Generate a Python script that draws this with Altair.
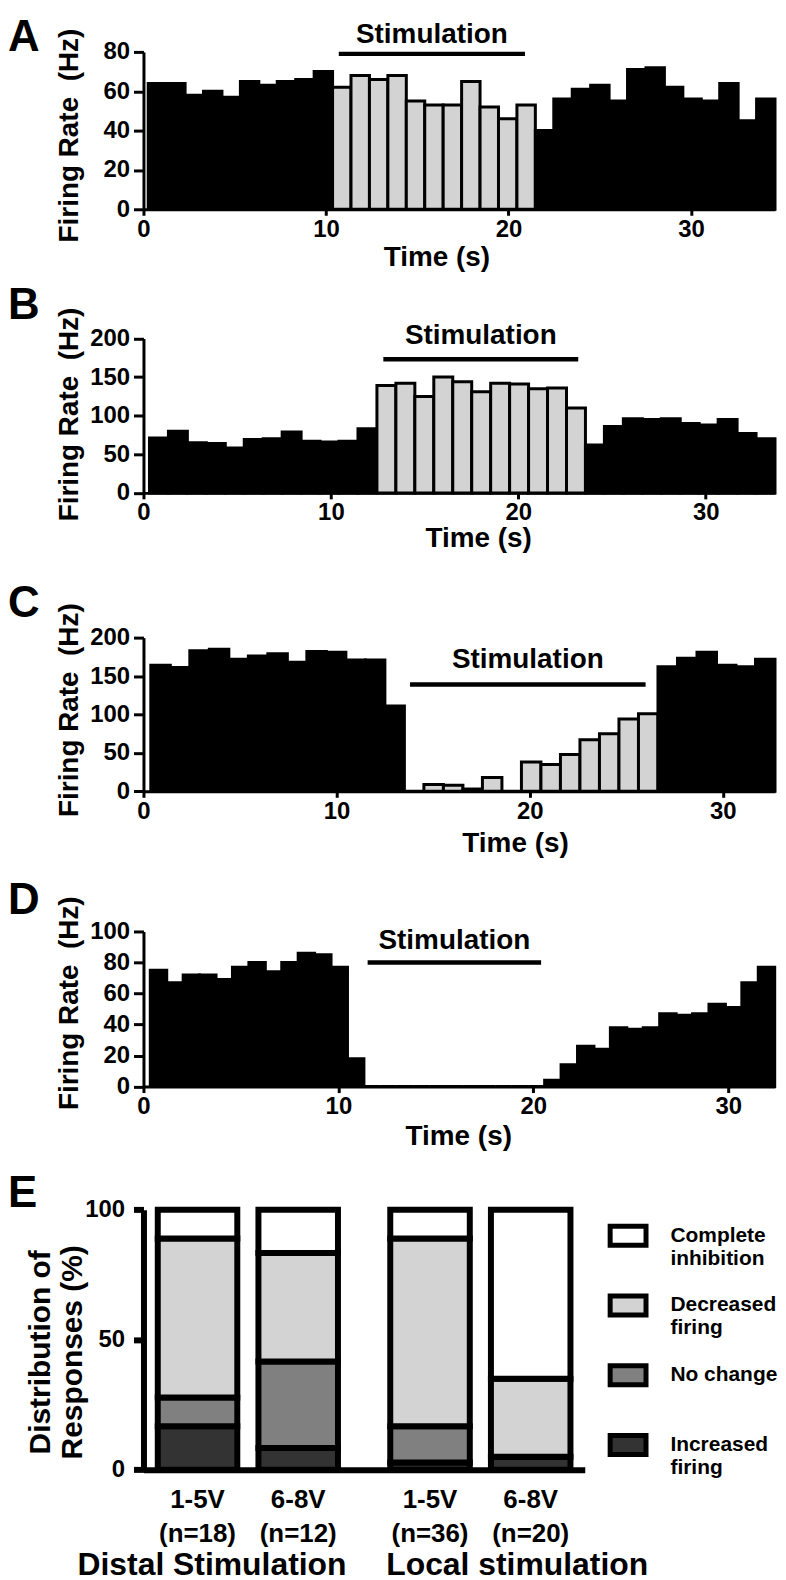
import altair as alt
import pandas as pd

F = "Liberation Sans"

# ---------------- data: panels A-D (firing-rate histograms) ----------------
A_pre = [64, 64, 58, 60, 57, 65, 63, 65, 66, 70]
A_stim = [62, 68, 66, 68, 55, 53, 53, 65, 52, 46, 53]
A_post = [40, 56, 61, 63, 55, 71, 72, 62, 56, 55, 64, 45, 56]
A_t0, A_bin, A_tmax, A_ymax = 0.26, 1.01, 34.6, 80
A_ticks = [0, 20, 40, 60, 80]
A_stimbar = [10.7, 20.9, 79]

B_pre = [71, 80, 65, 64, 58, 69, 70, 79, 67, 66, 67, 83]
B_stim = [139, 142, 125, 150, 144, 131, 142, 141, 135, 136, 110]
B_post = [62, 86, 96, 95, 96, 90, 88, 95, 77, 70]
B_t0, B_bin, B_tmax, B_ymax = 0.32, 1.0115, 33.7, 200
B_ticks = [0, 50, 100, 150, 200]
B_stimbar = [12.8, 23.2, 173]

C_pre = [164, 161, 183, 185, 172, 176, 179, 168, 182, 181, 171, 171, 111]
C_stim = [0, 9, 8, 3, 18, 0, 38, 35, 48, 67, 75, 94, 101]
C_post = [162, 173, 181, 164, 162, 172]
C_t0, C_bin, C_tmax, C_ymax = 0.38, 1.01, 32.7, 200
C_ticks = [0, 50, 100, 150, 200]
C_stimbar = [13.8, 26.0, 139]

D_pre = [75, 67, 72, 72, 69, 77, 80, 74, 80, 86, 85, 77, 18]
D_stim = [0, 0, 0, 0, 0, 0, 0, 0, 0, 0, 0]
D_post = [4, 14, 26, 24, 38, 37, 38, 47, 46, 47, 53, 51, 67, 77]
D_t0, D_bin, D_tmax, D_ymax = 0.35, 0.843, 32.4, 100
D_ticks = [0, 20, 40, 60, 80, 100]
D_stimbar = [11.5, 20.4, 80]

X_TICKS = [0, 10, 20, 30]

# ---------------- data: panel E ----------------
E_groups = ["Distal Stimulation", "Distal Stimulation", "Local stimulation", "Local stimulation"]
E_volts = ["1-5V", "6-8V", "1-5V", "6-8V"]
E_n = [18, 12, 36, 20]
E_responses = ["Complete inhibition", "Decreased firing", "No change", "Increased firing"]
E_increased = [16.7, 8.3, 2.8, 5.0]
E_nochange = [11.1, 33.3, 13.9, 0.0]
E_decreased = [61.1, 41.7, 72.2, 30.0]
E_complete = [11.1, 16.7, 11.1, 65.0]
E_colors = ["white", "#d3d3d3", "#808080", "#333333"]


def hist_df(pre, stim, post, t0, w):
    rates = pre + stim + post
    phase = ["spont"] * len(pre) + ["stim"] * len(stim) + ["spont"] * len(post)
    ts = [t0 + i * w for i in range(len(rates))]
    return pd.DataFrame({"t_start": ts, "t_end": [t + w for t in ts],
                         "rate": rates, "phase": phase})


PLOT_W = 634
LETTER_SIZE = 44


def panel(letter, df, tmax, ymax, yticks, stimbar, view_h, plot_h,
          letter_y, tx, ty, yty, text_dy):
    xsc = alt.Scale(domain=[0, tmax], nice=False, zero=False)
    ysc = alt.Scale(domain=[0, ymax], nice=False, range=[view_h, view_h - plot_h])
    xax = alt.Axis(values=X_TICKS, title="Time (s)", titleX=tx, titleY=ty,
                   titleBaseline="alphabetic", titleAlign="center",
                   titleFont=F, titleFontSize=28, titleFontWeight="bold", titleColor="black",
                   labelFont=F, labelFontSize=24, labelFontWeight="bold", labelColor="black",
                   labelPadding=2, labelFlush=False, labelOverlap=False,
                   tickSize=6, tickWidth=3, tickColor="black",
                   domainWidth=3, domainColor="black", grid=False)
    yax = alt.Axis(values=yticks, title="Firing Rate\u00a0\u00a0(Hz)", titleX=-66, titleY=yty,
                   titleAngle=270, titleBaseline="alphabetic", titleAlign="center",
                   titleFont=F, titleFontSize=28, titleFontWeight="bold", titleColor="black",
                   labelFont=F, labelFontSize=24, labelFontWeight="bold", labelColor="black",
                   labelPadding=4, labelFlush=False, labelOverlap=False,
                   tickSize=10, tickWidth=3, tickColor="black",
                   domainWidth=3, domainColor="black", grid=False)
    bars = alt.Chart(df).mark_rect(stroke="black", strokeWidth=3).encode(
        x=alt.X("t_start:Q", scale=xsc, axis=xax),
        x2="t_end:Q",
        y=alt.Y("rate:Q", scale=ysc, axis=yax),
        y2=alt.datum(0),
        fill=alt.Fill("phase:N", scale=alt.Scale(domain=["spont", "stim"],
                                                 range=["black", "#d3d3d3"]), legend=None),
    )
    sdf = pd.DataFrame({"start": [stimbar[0]], "end": [stimbar[1]], "level": [stimbar[2]]})
    rule = alt.Chart(sdf).mark_rule(color="black", strokeWidth=4.5).encode(
        x=alt.X("start:Q", scale=xsc), x2="end:Q",
        y=alt.Y("level:Q", scale=ysc))
    txt = alt.Chart(sdf).transform_calculate(
        mid="(datum.start + datum.end) / 2").mark_text(
        text="Stimulation", font=F, fontSize=28, fontWeight="bold", color="black",
        baseline="alphabetic", align="center", dy=text_dy).encode(
        x=alt.X("mid:Q", scale=xsc), y=alt.Y("level:Q", scale=ysc))
    let = alt.Chart(pd.DataFrame({"l": [letter]})).mark_text(
        font=F, fontSize=LETTER_SIZE, fontWeight="bold", align="left", baseline="alphabetic",
        color="black").encode(text="l:N", x=alt.value(-136), y=alt.value(letter_y))
    return alt.layer(bars, rule, txt, let).properties(width=PLOT_W, height=view_h)


pA = panel("A", hist_df(A_pre, A_stim, A_post, A_t0, A_bin), A_tmax, A_ymax, A_ticks,
           A_stimbar, 199, 158, 40, 294, 56, 124.5, -11)
pB = panel("B", hist_df(B_pre, B_stim, B_post, B_t0, B_bin), B_tmax, B_ymax, B_ticks,
           B_stimbar, 284.7, 155, 110, 336, 54, 205.5, -15)
pC = panel("C", hist_df(C_pre, C_stim, C_post, C_t0, C_bin), C_tmax, C_ymax, C_ticks,
           C_stimbar, 299.3, 154.3, 124, 373, 60, 217.3, -17)
pD = panel("D", hist_df(D_pre, D_stim, D_post, D_t0, D_bin), D_tmax, D_ymax, D_ticks,
           D_stimbar, 295.7, 155.7, 122, 316, 58, 211.5, -14)

# ---------------- panel E ----------------
E_group_order = ["Distal Stimulation", "Local stimulation"]
E_volt_order = ["1-5V", "6-8V"]
rows = []
series = {"Increased firing": E_increased, "No change": E_nochange,
          "Decreased firing": E_decreased, "Complete inhibition": E_complete}
for resp, vals in series.items():
    for i in range(4):
        rows.append({"group": E_groups[i], "volt": E_volts[i], "response": resp,
                     "pct": vals[i], "rank": 3 - E_responses.index(resp)})
e_df = pd.DataFrame(rows)
lab_df = pd.DataFrame({"group": E_groups, "volt": E_volts,
                       "label": [f"{v}\n(n={n})" for v, n in zip(E_volts, E_n)]})
grp_df = pd.DataFrame({"group": E_group_order})

E_VIEW_H, E_PLOT_H = 384.3, 261
xE = alt.Scale(paddingInner=0.134, paddingOuter=0.016)
xoE = alt.Scale(paddingInner=0.21, paddingOuter=0.105)
yE = alt.Scale(domain=[0, 100], nice=False, range=[E_VIEW_H, E_VIEW_H - E_PLOT_H])

e_bars = alt.Chart(e_df).mark_bar(stroke="black", strokeWidth=6, strokeJoin="miter").encode(
    x=alt.X("group:N", sort=E_group_order, scale=xE,
            axis=alt.Axis(labels=False, ticks=False, title=None, domainWidth=6,
                          domainColor="black", grid=False)),
    xOffset=alt.XOffset("volt:N", sort=E_volt_order, scale=xoE),
    y=alt.Y("pct:Q", stack="zero", scale=yE,
            axis=alt.Axis(values=[0, 50, 100], title=["Distribution of", "Responses (%)"],
                          titleFont=F, titleFontSize=30, titleFontWeight="bold",
                          titleColor="black", titleLineHeight=32, titleX=-94, titleY=266,
                          titleAngle=270, titleBaseline="alphabetic", titleAlign="center",
                          labelFont=F, labelFontSize=24, labelFontWeight="bold",
                          labelColor="black", labelPadding=9, labelFlush=False,
                          tickSize=10, tickWidth=6, tickColor="black",
                          domainWidth=6, domainColor="black", grid=False)),
    fill=alt.Fill("response:N", sort=E_responses,
                  scale=alt.Scale(domain=E_responses, range=E_colors),
                  legend=alt.Legend(orient="none", legendX=466, legendY=129, title=None,
                                    direction="vertical",
                                    symbolType="M-1,-0.53H1V0.53H-1Z", symbolSize=1296,
                                    symbolStrokeColor="black", symbolStrokeWidth=5,
                                    symbolOpacity=1, labelFont=F, labelFontSize=21,
                                    labelFontWeight="bold", labelColor="black",
                                    labelOffset=22, labelLimit=300,
                                    labelExpr="datum.label == 'No change' ? datum.label : split(datum.label, ' ')",
                                    rowPadding=16, gridAlign="all", padding=0)),
    order=alt.Order("rank:Q"),
)

e_sub = alt.Chart(lab_df).mark_text(
    font=F, fontSize=26, fontWeight="bold", color="black", baseline="alphabetic",
    align="center", lineBreak="\n", lineHeight=34).encode(
    x=alt.X("group:N", sort=E_group_order, scale=xE),
    xOffset=alt.XOffset("volt:N", sort=E_volt_order, scale=xoE),
    text="label:N", y=alt.value(423))

e_g1 = alt.Chart(grp_df).transform_filter(
    alt.datum.group == "Distal Stimulation").mark_text(
    font=F, fontSize=32, fontWeight="bold", color="black", baseline="alphabetic",
    align="center", dx=-36).encode(
    x=alt.X("group:N", sort=E_group_order, scale=xE),
    text="group:N", y=alt.value(490))
e_g2 = alt.Chart(grp_df).transform_filter(
    alt.datum.group == "Local stimulation").mark_text(
    font=F, fontSize=32, fontWeight="bold", color="black", baseline="alphabetic",
    align="center", dx=37).encode(
    x=alt.X("group:N", sort=E_group_order, scale=xE),
    text="group:N", y=alt.value(490))
e_let = alt.Chart(pd.DataFrame({"l": ["E"]})).mark_text(
    font=F, fontSize=LETTER_SIZE, fontWeight="bold", align="left", baseline="alphabetic",
    color="black").encode(text="l:N", x=alt.value(-136), y=alt.value(121))

pE = alt.layer(e_bars, e_sub, e_g1, e_g2, e_let).properties(width=443, height=E_VIEW_H)

chart = alt.vconcat(pA, pB, pC, pD, pE, spacing=0, bounds="flush", padding=0,
                    background="white").resolve_scale(
    fill="independent").configure_view(stroke=None)

chart.save("out.html", embed_options={"renderer": "svg", "actions": False})
